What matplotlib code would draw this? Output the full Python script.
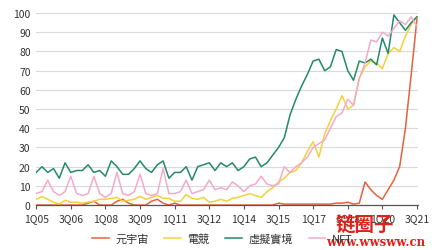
import matplotlib
matplotlib.use('Agg')
import matplotlib.pyplot as plt
import numpy as np

plt.rcParams['font.family'] = ['Noto Sans CJK TC', 'DejaVu Sans']

# quarterly series, 1Q05 .. 3Q21 (67 quarters)
tick_labels = ['1Q05', '3Q06', '1Q08', '3Q09', '1Q11', '3Q12',
               '1Q14', '3Q15', '1Q17', '3Q18', '1Q20', '3Q21']

metaverse = [0, 0, 0, 0, 0, 0, 0, 0, 0, 1, 2, 0, 0, 0, 2, 3, 1, 0, 0, 0,
             2, 3, 1, 0, 1, 0, 0, 0, 0, 0, 0, 0, 0, 0, 0, 0, 0, 0, 0, 0,
             0, 0, 1, 0.5, 0.5, 0.5, 0.5, 0.5, 0.5, 0.5, 0.5, 0.5, 1, 1, 1.5, 0.5,
             1, 12, 8, 5, 3, 8, 13, 20, 40, 68, 97]

esports = [3, 4.5, 3, 1.5, 0.5, 2.5, 1.5, 1.5, 1, 1.5, 2, 3, 3, 3.5, 4, 2,
           2.5, 3, 4.5, 3, 4, 5, 3.5, 3.5, 2, 2, 5.5, 3.5, 3, 4, 1.5, 2,
           3, 2, 3.5, 4, 5, 6, 5, 4, 7, 9, 12, 14, 17, 18, 22, 28,
           33, 25, 37, 44, 50, 57, 50, 52, 66, 72, 75, 74, 71, 79, 82, 80,
           88, 94, 98]

vr = [17, 20, 17, 19, 14, 22, 17, 18, 18, 21, 17, 18, 15, 23, 20, 16,
      16, 19, 23, 19, 17, 21, 23, 14, 17, 17, 20, 13, 20, 21, 22, 18,
      22, 20, 22, 18, 20, 24, 25, 20, 22, 26, 30, 35, 47, 55, 62, 68,
      75, 76, 70, 72, 81, 80, 70, 65, 75, 74, 76, 73, 87, 79, 99, 95,
      91, 95, 98]

nft = [6, 7, 13, 7, 5, 7, 15, 6, 5, 6, 15, 6, 4, 6, 17, 6,
       5, 7, 16, 6, 5, 6, 19, 6, 6, 7, 13, 6, 7, 8, 13, 8,
       9, 8, 12, 10, 7, 10, 11, 15, 11, 10, 11, 20, 17, 20, 22, 25,
       30, 32, 34, 40, 46, 48, 55, 52, 66, 74, 86, 85, 90, 88, 92, 96,
       94, 98, 93]

labels = ['元宇宙', '電競', '虛擬實境', 'NFT']
colors = ['#E8603C', '#F5D03A', '#23896A', '#F2AACB']

x = np.arange(len(vr))

fig = plt.figure(figsize=(4.36, 2.51), dpi=100)
ax = fig.add_axes([0.083, 0.179, 0.876, 0.765])

for series, lab, col in zip([metaverse, esports, vr, nft], labels, colors):
    ax.plot(x, series, color=col, lw=1.1, label=lab)

ax.set_xlim(0, 66.2)
ax.set_ylim(0, 100)
ax.set_yticks(range(0, 101, 10))
ax.set_xticks(range(0, 67, 6))
ax.set_xticklabels(tick_labels)
ax.grid(axis='y', color='#d9d9d9', lw=0.8)
ax.set_axisbelow(True)
for s in ['top', 'right', 'left']:
    ax.spines[s].set_visible(False)
ax.spines['bottom'].set_color('#555555')
ax.spines['bottom'].set_linewidth(0.9)
ax.tick_params(axis='y', length=0, labelsize=7.5, colors='#333333', pad=4)
ax.tick_params(axis='x', length=3, width=0.8, color='#555555',
               labelsize=7.5, labelcolor='#333333', pad=3)

fig.legend(loc='lower center', bbox_to_anchor=(0.51, -0.015), ncol=4,
           frameon=False, fontsize=8, handlelength=1.5, columnspacing=1.4,
           handletextpad=0.6, labelcolor='#333333')

# watermark
fig.text(0.905, 0.10, '链圈子', color='#E0201B', fontsize=14,
         fontweight='bold', ha='right', va='center',
         family=['Noto Sans CJK SC', 'DejaVu Sans'])
fig.text(0.975, 0.035, 'www.wwsww.cn', color='#E0201B', fontsize=8.5,
         fontweight='bold', ha='right', va='center', family='DejaVu Serif')

fig.savefig('out.png', dpi=100)
